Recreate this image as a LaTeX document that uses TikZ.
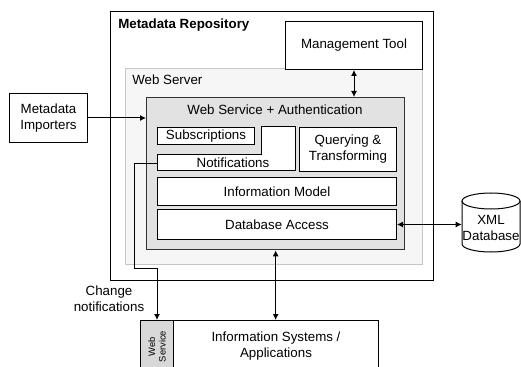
\documentclass[tikz,border=0pt]{standalone}
\usepackage{fontspec}
\setmainfont{Liberation Sans}
\usepackage{xcolor}
\usetikzlibrary{arrows.meta,positioning,calc}
\definecolor{ServerLine}{HTML}{C6C6C6}
\definecolor{ServerFill}{HTML}{F6F6F6}
\definecolor{ServiceFill}{HTML}{E2E2E2}
\definecolor{StripFill}{HTML}{D8D8D8}

\begin{document}
\begin{tikzpicture}[x=0.75pt,y=-0.75pt,font=\fontsize{10}{12}\selectfont,
  box/.style={draw,line width=0.75pt,fill=white,inner sep=0pt,anchor=north west,align=center},
  lbl/.style={inner sep=0pt,align=center},
  arr/.style={line width=0.75pt,-{Latex[length=4.5pt,width=4.5pt]}},
  darr/.style={line width=0.75pt,{Latex[length=4.5pt,width=4.5pt]}-{Latex[length=4.5pt,width=4.5pt]}}]
  \useasboundingbox (0,0) rectangle (521,367);
  % repository and server frames
  \node[box,minimum width=242.25pt,minimum height=201.75pt] (repo) at (110,11) {};
  \node[lbl,anchor=west,font=\fontsize{10}{12}\selectfont\bfseries] (repolbl) at (118,25) {Metadata Repository};
  \node[box,draw=ServerLine,fill=ServerFill,minimum width=222.75pt,minimum height=147pt] (websrv) at (125,68) {};
  \node[box,minimum width=102.75pt,minimum height=36pt] (mgmt) at (285,21) {Management Tool};
  \node[lbl,anchor=west] (websrvlbl) at (132,80) {Web Server};
  \node[box,line width=1pt,draw=black!80,fill=ServiceFill,minimum width=193.5pt,minimum height=114pt] (wsauth) at (146,97) {};
  \node[lbl] (wsauthlbl) at (275,110) {Web Service + Authentication};
  % inner components
  \node[box,minimum width=72.75pt,minimum height=12.75pt] (subs) at (157,127) {Subscriptions};
  \draw[line width=0.75pt,fill=white] (157,155) -- (261,155) -- (261,127) -- (295,127) -- (295,171) -- (157,171) -- cycle;
  \node[lbl,anchor=north west,minimum width=103.5pt,minimum height=12pt] (notif) at (157,155) {};
  \node[lbl] (notiflbl) at (233,163) {Notifications};
  \node[box,minimum width=72.75pt,minimum height=33pt] (query) at (299,127) {Querying \&\\Transforming};
  \node[box,minimum width=179.25pt,minimum height=21pt] (infomodel) at (157,177) {Information Model};
  \node[box,minimum width=179.25pt,minimum height=22.5pt] (dbaccess) at (157,209) {Database Access};
  % outside
  \node[box,minimum width=58.5pt,minimum height=36.75pt] (importers) at (9,93) {Metadata\\Importers};
  \draw[line width=0.75pt,fill=white] (462,201) -- (462,244) arc[start angle=180,end angle=360,x radius=21.75pt,y radius=6pt] -- (520,201);
  \draw[line width=0.75pt] (491,201) ellipse [x radius=21.75pt,y radius=6pt];
  \node[lbl,minimum width=43.5pt] (xmldb) at (491,228) {XML\\Database};
  \node[box,fill=StripFill,minimum width=24.75pt,minimum height=39pt] (strip) at (140,320) {};
  \node[lbl,rotate=90,font=\fontsize{7}{8}\selectfont] (striplbl) at (strip.center) {Web\\Service};
  \node[box,minimum width=153.75pt,minimum height=39pt] (infosys) at (173,320) {Information Systems /\\Applications};
  \node[lbl] (chglbl) at (109,299) {Change\\notifications};
  % connectors
  \coordinate (bend) at (134,268);
  \draw[arr] (importers.east) -- (importers.east -| wsauth.west);
  \draw[darr] (mgmt.south) -- (mgmt.south |- wsauth.north);
  \draw[darr] (dbaccess.east) -- (dbaccess.east -| xmldb.west);
  \draw[darr] (wsauth.south) -- (wsauth.south |- infosys.north);
  \draw[arr] (notif.west) -| (bend) -- (bend -| strip.north) -- (strip.north);
\end{tikzpicture}
\end{document}
